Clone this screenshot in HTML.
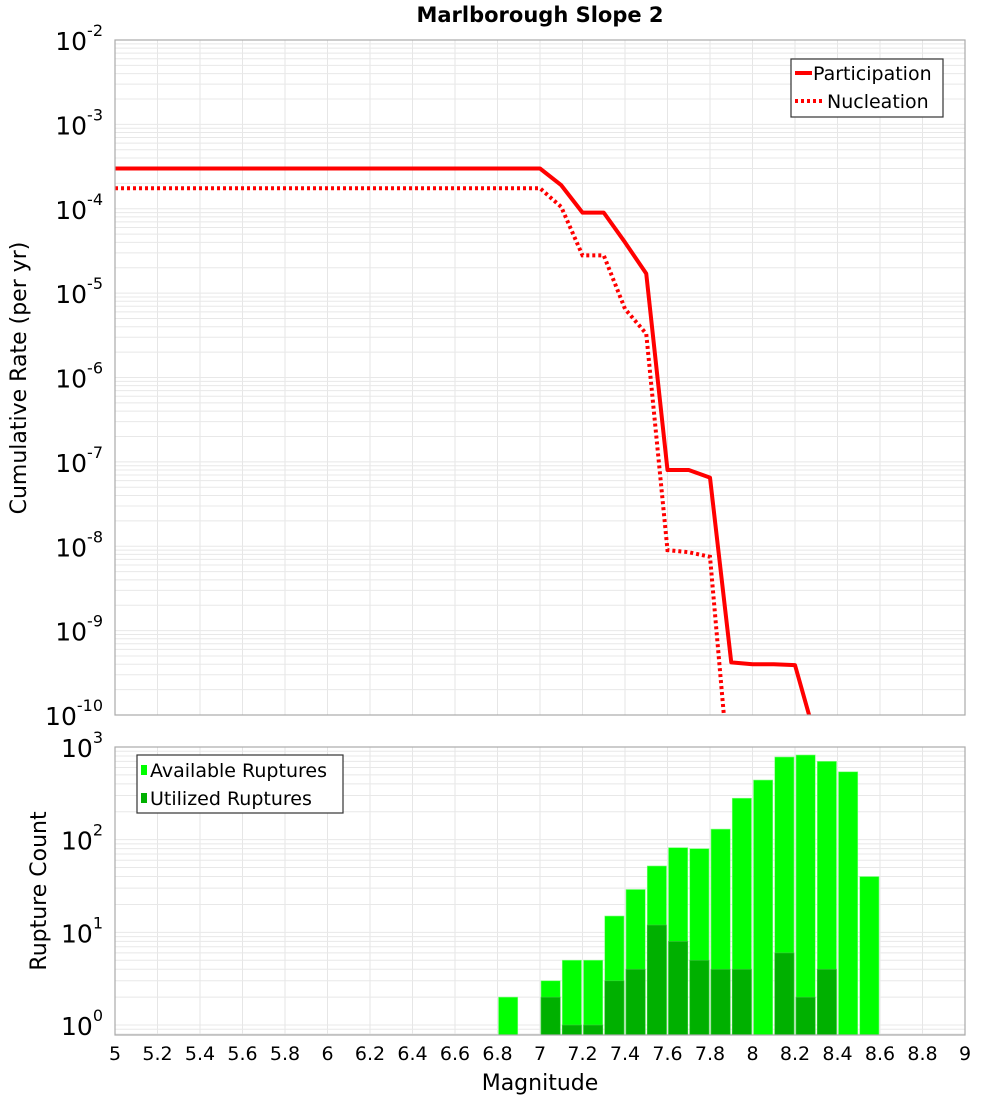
<!DOCTYPE html>
<html><head><meta charset="utf-8">
<style>
body{margin:0;background:#fff;font-family:"Liberation Sans","DejaVu Sans",sans-serif;}
svg text{font-family:"DejaVu Sans","Liberation Sans",sans-serif;}
</style></head>
<body>
<svg id="c" width="1000" height="1100" xmlns="http://www.w3.org/2000/svg">
<text x="540" y="22" text-anchor="middle" font-size="21" font-weight="bold">Marlborough Slope 2</text>
<g id="top"></g>
<g id="bot"></g>
<text transform="translate(26,378) rotate(-90)" text-anchor="middle" font-size="22">Cumulative Rate (per yr)</text>
<text transform="translate(46,891) rotate(-90)" text-anchor="middle" font-size="22">Rupture Count</text>
<text x="540" y="1090" text-anchor="middle" font-size="22">Magnitude</text>
</svg>
<script>
const partMags=[5,7.0,7.1,7.2,7.3,7.4,7.5,7.6,7.7,7.8,7.9,8.0,8.1,8.2,8.3];
const partRates=[3e-4,3e-4,1.9e-4,9e-5,9e-5,4e-5,1.7e-5,8e-8,8e-8,6.5e-8,4.2e-10,4e-10,4e-10,3.9e-10,5e-11];
const nuclMags=[5,7.0,7.1,7.2,7.3,7.4,7.5,7.6,7.7,7.8,7.9];
const nuclRates=[1.75e-4,1.75e-4,1.05e-4,2.8e-5,2.8e-5,6.5e-6,3.3e-6,9e-9,8.5e-9,7.5e-9,1e-11];
const binMags=[6.85,7.05,7.15,7.25,7.35,7.45,7.55,7.65,7.75,7.85,7.95,8.05,8.15,8.25,8.35,8.45,8.55];
const availCounts=[2,3,5,5,15,29,52,82,80,130,280,440,780,820,700,540,40];
const utilCounts=[0,2,1,1,3,4,12,8,5,4,4,0,6,2,4,0,0];
const xTicks=[5,5.2,5.4,5.6,5.8,6,6.2,6.4,6.6,6.8,7,7.2,7.4,7.6,7.8,8,8.2,8.4,8.6,8.8,9];
const NS="http://www.w3.org/2000/svg";
const L=115,R=965,T1=40,B1=715,T2=747,B2=1035;
const X=m=>L+(m-5)/4*(R-L);
const Y1=v=>T1+(-2-Math.log10(v))/8*(B1-T1);
const lmin2=Math.log10(0.78),lmax2=3;
const Y2=v=>B2-(Math.log10(v)-lmin2)/(lmax2-lmin2)*(B2-T2);
function mk(p,t,a){const e=document.createElementNS(NS,t);for(const k in a)e.setAttribute(k,a[k]);p.appendChild(e);return e;}
const gTop=document.getElementById('top'),gBot=document.getElementById('bot');
const defs=mk(document.getElementById('c'),'defs',{});
const cp1=mk(defs,'clipPath',{id:'cp1'});mk(cp1,'rect',{x:L,y:T1,width:R-L,height:B1-T1});
function grid(g,T,B,Y,dmin,dmax){
  for(const m of xTicks){const l=mk(g,'line',{x1:X(m),x2:X(m),y1:T,y2:B,stroke:'#e6e6e6','stroke-width':1});
  
  }
  for(let d=dmin;d<=dmax;d++)for(let k=1;k<10;k++){const v=k*Math.pow(10,d);const y=Y(v);if(y<T-0.5||y>B+0.5)continue;
    const l=mk(g,'line',{x1:L,x2:R,y1:y,y2:y,stroke:'#e8e8e8','stroke-width':1});
    
    }
}
grid(gTop,T1,B1,Y1,-10,-3);
grid(gBot,T2,B2,Y2,-1,2);
for(let d=-10;d<=-2;d++){const y=Y1(Math.pow(10,d));
  const t=mk(gTop,'text',{x:103,y:y+10,'text-anchor':'end','font-size':25});
  
  
  t.innerHTML='10<tspan dy="-14" font-size="16">'+d+'</tspan>';}
for(let d=0;d<=3;d++){const y=Y2(Math.pow(10,d));
  const t=mk(gBot,'text',{x:103,y:y+10,'text-anchor':'end','font-size':25});
  
  
  t.innerHTML='10<tspan dy="-14" font-size="16">'+d+'</tspan>';}
for(const m of xTicks){const t=mk(gBot,'text',{x:X(m),y:1060,'text-anchor':'middle','font-size':19});
  
  
  t.textContent=String(m);}
function pts(ms,vs){return ms.map((m,i)=>X(m)+','+Y1(vs[i])).join(' ');}
const gl=mk(gTop,'g',{'clip-path':'url(#cp1)'});
const pl=mk(gl,'polyline',{points:pts(partMags,partRates),fill:'none',stroke:'#ff0000','stroke-width':4,'stroke-linejoin':'round'});


const nl=mk(gl,'polyline',{points:pts(nuclMags,nuclRates),fill:'none',stroke:'#ff0000','stroke-width':4,'stroke-dasharray':'3,3'});


const f1=mk(gTop,'rect',{x:L,y:T1,width:R-L,height:B1-T1,fill:'none',stroke:'#aaa','stroke-width':1.2});


const bw=(X(5.1)-X(5))-2;
binMags.forEach((m,i)=>{
  const a=availCounts[i];if(a>0){const y=Y2(a);const r=mk(gBot,'rect',{x:X(m)-bw/2,y:y,width:bw,height:B2-y,fill:'#00ff00',stroke:'#7fff7f','stroke-width':0.6});
  
  }
  const u=utilCounts[i];if(u>0){const y=Y2(u);const r=mk(gBot,'rect',{x:X(m)-bw/2,y:y,width:bw,height:B2-y,fill:'#00b000',stroke:'#3fcf3f','stroke-width':0.6});
  
  }
});
const f2=mk(gBot,'rect',{x:L,y:T2,width:R-L,height:B2-T2,fill:'none',stroke:'#aaa','stroke-width':1.2});


const lg1=mk(gTop,'g',{});


mk(lg1,'rect',{x:791,y:59,width:152,height:58,fill:'#fff',stroke:'#333','stroke-width':1.2});
mk(lg1,'line',{x1:795,x2:812,y1:73,y2:73,stroke:'#f00','stroke-width':4});
mk(lg1,'line',{x1:795,x2:824,y1:101,y2:101,stroke:'#f00','stroke-width':4,'stroke-dasharray':'3,3'});
let t=mk(lg1,'text',{x:813,y:80,'font-size':19});t.textContent='Participation';


t=mk(lg1,'text',{x:827,y:108,'font-size':19});t.textContent='Nucleation';


const lg2=mk(gBot,'g',{});


mk(lg2,'rect',{x:137,y:755,width:206,height:58,fill:'#fff',stroke:'#333','stroke-width':1.2});
mk(lg2,'rect',{x:141,y:765,width:6,height:10,fill:'#00ff00'});
mk(lg2,'rect',{x:141,y:793,width:6,height:10,fill:'#00b000'});
t=mk(lg2,'text',{x:150,y:777,'font-size':19});t.textContent='Available Ruptures';


t=mk(lg2,'text',{x:150,y:805,'font-size':19});t.textContent='Utilized Ruptures';


</script>
</body></html>
